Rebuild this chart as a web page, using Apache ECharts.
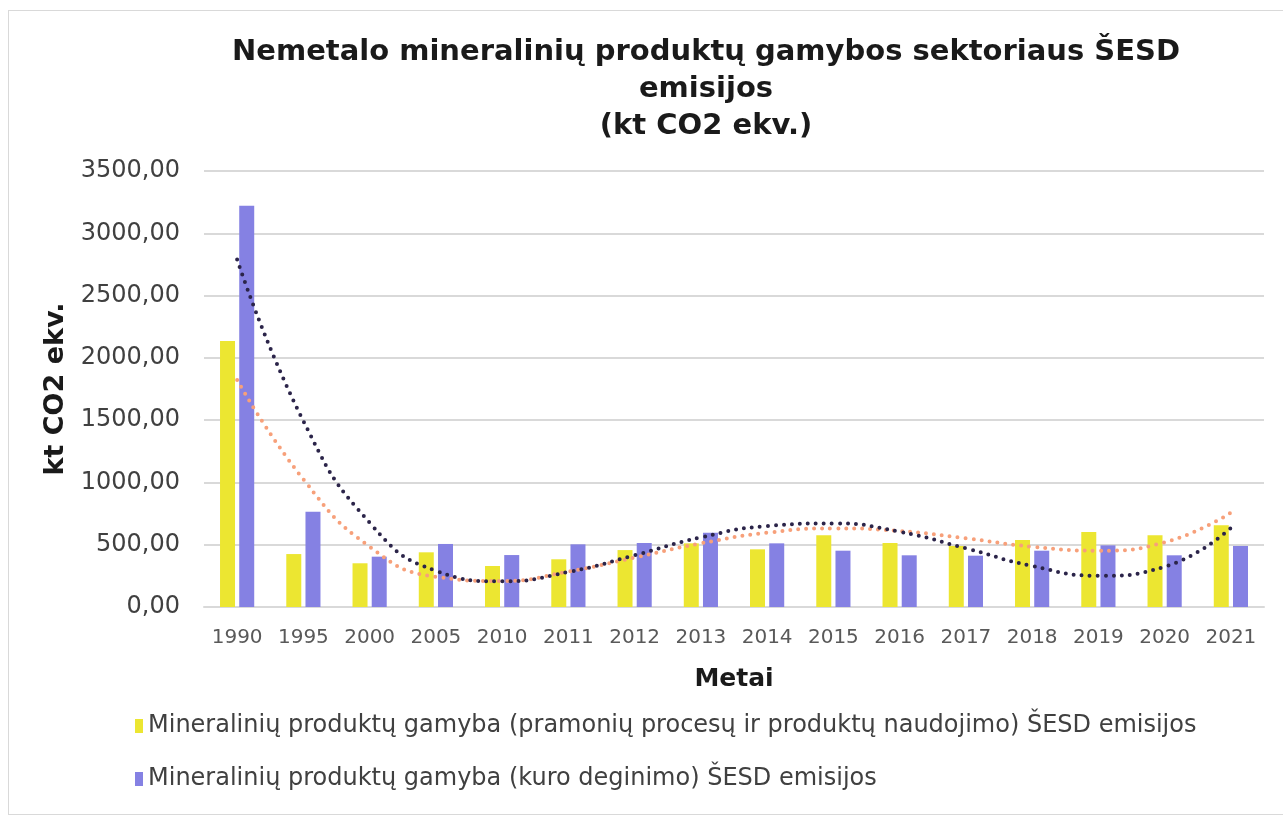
<!DOCTYPE html>
<html>
<head>
<meta charset="utf-8">
<script src="https://cdn.jsdelivr.net/npm/echarts@6/dist/echarts.min.js"></script>
<style>
  html, body { margin: 0; padding: 0; background: #fff; }
  #frame { position: absolute; left: 8px; top: 10px; width: 1290px; height: 805px; border: 1px solid #d9d9d9; box-sizing: border-box; }
  #chart { position: absolute; left: 0; top: 0; width: 1283px; height: 820px; }
</style>
</head>
<body>
<div id="frame"></div>
<div id="chart"></div>
<script>
  // metai
  var years = ['1990', '1995', '2000', '2005', '2010', '2011', '2012', '2013', '2014', '2015', '2016', '2017', '2018', '2019', '2020', '2021']
  // pramonės procesų ir produktų naudojimo emisijos
  var processValues = [2135, 425, 351, 439, 329, 383, 457, 511, 463, 575, 514, 490, 538, 602, 575, 656]
  // kuro deginimo emisijos
  var fuelValues = [3222, 765, 404, 506, 417, 503, 514, 596, 511, 452, 415, 412, 452, 495, 415, 490]
  // tendencijų linijos, nuskaitytos nuo paveikslo
  var processTrend = [1822, 1025, 484, 243, 208, 285, 396, 511, 596, 631, 610, 551, 484, 452, 519, 757]
  var fuelTrend = [2790, 1493, 677, 291, 206, 281, 415, 559, 650, 671, 604, 471, 329, 251, 323, 634]

  var seriesNames = [
    'Mineralinių produktų gamyba (pramonių procesų ir produktų naudojimo) ŠESD emisijos',
    'Mineralinių produktų gamyba (kuro deginimo) ŠESD emisijos'
  ]

  var font = 'DejaVu Sans, Verdana, sans-serif'
  var chart = echarts.init(document.getElementById('chart'))
  chart.setOption({
    animation: false,
    textStyle: { fontFamily: font },
    title: {
      text: 'Nemetalo mineralinių produktų gamybos sektoriaus ŠESD\nemisijos\n(kt CO2 ekv.)',
      left: 701,
      top: 29,
      textAlign: 'center',
      textStyle: {
        fontFamily: font,
        fontSize: 29,
        fontWeight: 'bold',
        color: '#1a1a1a',
        lineHeight: 37
      }
    },
    legend: {
      data: seriesNames,
      orient: 'vertical',
      left: 130,
      top: 709,
      itemGap: 29,
      itemWidth: 8,
      itemHeight: 14,
      icon: 'rect',
      textStyle: { fontFamily: font, fontSize: 24, color: '#404040' }
    },
    grid: { left: 204, right: 19, top: 171, bottom: 213 },
    xAxis: {
      type: 'category',
      data: years,
      name: 'Metai',
      nameLocation: 'middle',
      nameGap: 60,
      nameTextStyle: { fontFamily: font, fontSize: 25, fontWeight: 'bold', color: '#1a1a1a' },
      axisLine: { lineStyle: { color: '#d9d9d9', width: 2 } },
      axisTick: { show: false },
      axisLabel: { interval: 0, fontFamily: font, fontSize: 20, color: '#595959', margin: 21 }
    },
    yAxis: {
      type: 'value',
      min: 0,
      max: 3500,
      interval: 500,
      name: 'kt CO2 ekv.',
      nameLocation: 'middle',
      nameGap: 126,
      nameTextStyle: { fontFamily: font, fontSize: 27, fontWeight: 'bold', color: '#1a1a1a' },
      axisLine: { show: false },
      axisTick: { show: false },
      splitLine: { lineStyle: { color: '#d9d9d9', width: 2 } },
      axisLabel: {
        fontFamily: font,
        fontSize: 24,
        color: '#404040',
        margin: 24,
        formatter: function (v) { return v.toFixed(2).replace('.', ',') }
      }
    },
    series: [{
      name: seriesNames[0],
      type: 'bar',
      data: processValues,
      barWidth: 15,
      barGap: '28%',
      itemStyle: { color: '#ECE631' }
    }, {
      name: seriesNames[1],
      type: 'bar',
      data: fuelValues,
      barWidth: 15,
      itemStyle: { color: '#8581E3' }
    }, {
      name: 'trend1',
      type: 'line',
      data: processTrend,
      smooth: 0.5,
      showSymbol: false,
      z: 5,
      lineStyle: { color: '#F7A07A', width: 4, type: [0, 8], cap: 'round' }
    }, {
      name: 'trend2',
      type: 'line',
      data: fuelTrend,
      smooth: 0.5,
      showSymbol: false,
      z: 6,
      lineStyle: { color: '#2B2449', width: 4, type: [0, 8], cap: 'round' }
    }]
  })
</script>
</body>
</html>
